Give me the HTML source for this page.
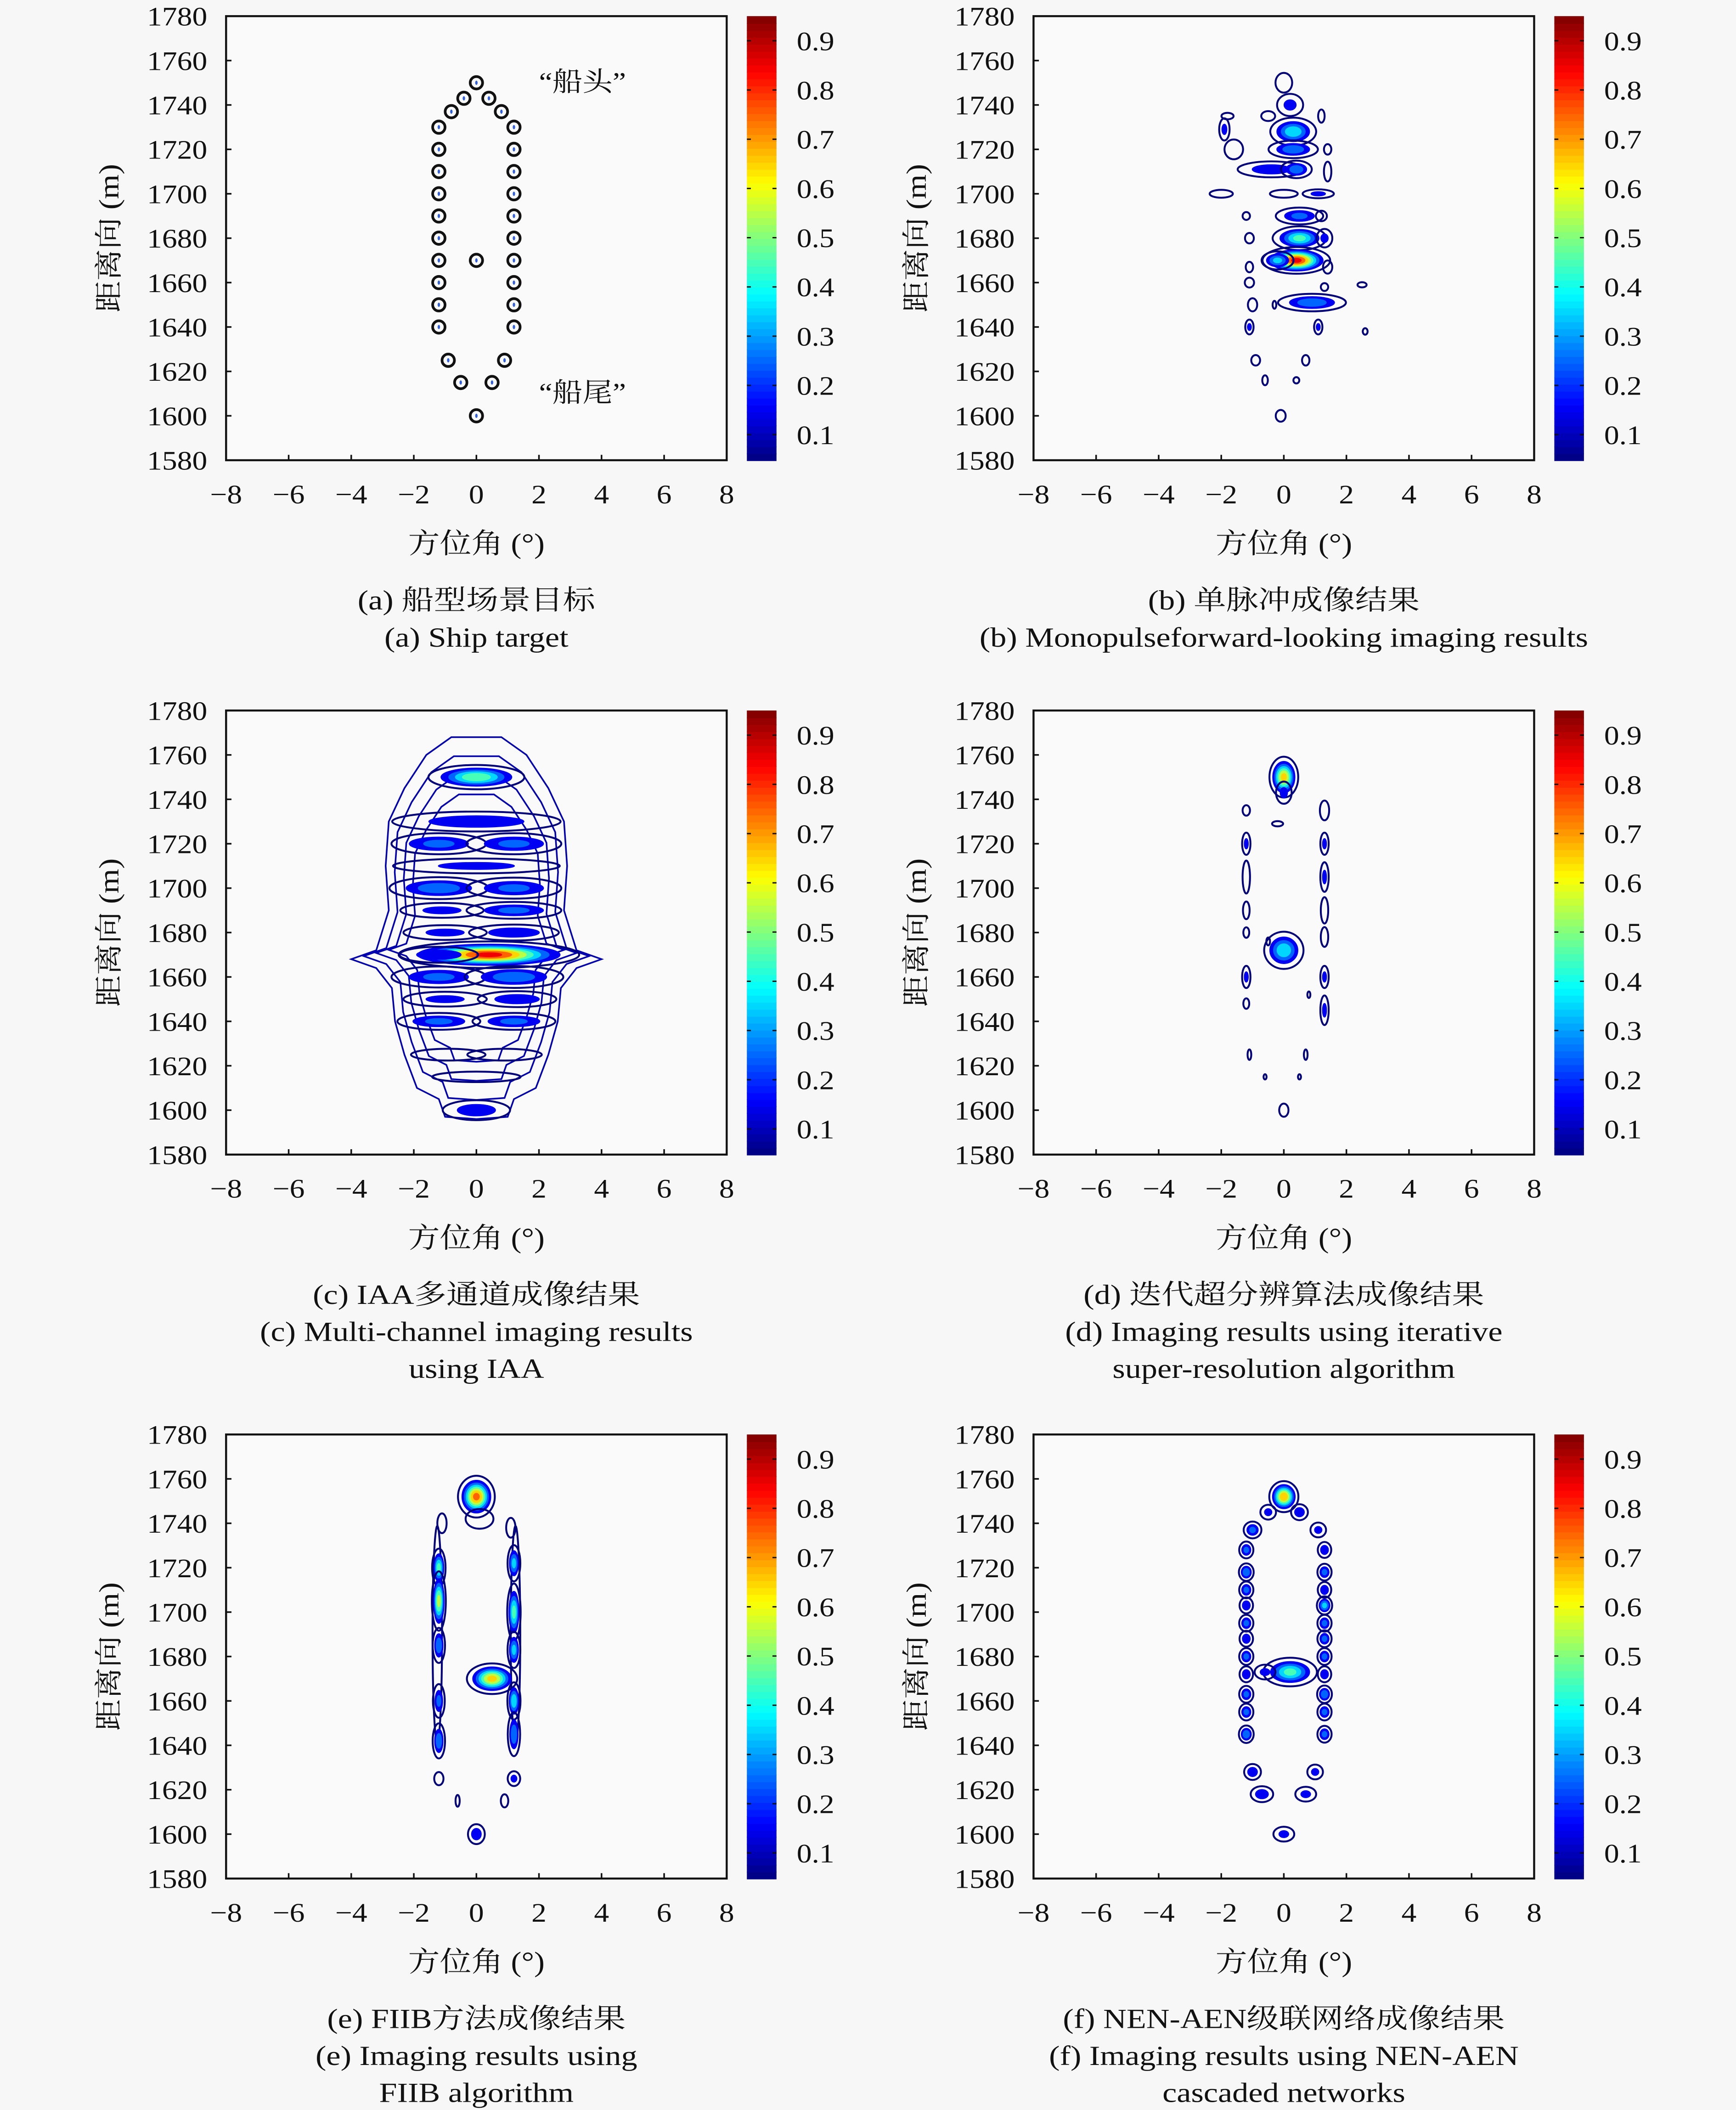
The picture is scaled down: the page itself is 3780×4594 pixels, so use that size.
<!DOCTYPE html>
<html><head><meta charset="utf-8"><style>
html,body{margin:0;padding:0;background:#f7f7f7}
svg{display:block}
text{font-family:"Liberation Serif","Noto Serif CJK SC",serif;fill:#111}
</style></head><body>
<svg id="fig" width="3780" height="4594" viewBox="0 0 1290 1568" preserveAspectRatio="none" xmlns="http://www.w3.org/2000/svg">
<rect x="0" y="0" width="1290" height="1568" fill="#f7f7f7"/>
</svg>
<script>
// ---- data ----
const xTicks = [-8,-6,-4,-2,0,2,4,6,8];
const yTicks = [1580,1600,1620,1640,1660,1680,1700,1720,1740,1760,1780];
const cbTicks = [0.1,0.2,0.3,0.4,0.5,0.6,0.7,0.8,0.9];
// panel (a) ship scatterers
const shipX = [0,-0.4,0.4,-0.8,0.8,-1.2,-1.2,-1.2,-1.2,-1.2,-1.2,-1.2,-1.2,-1.2,-1.2,1.2,1.2,1.2,1.2,1.2,1.2,1.2,1.2,1.2,1.2,0,-0.9,0.9,-0.5,0.5,0];
const shipY = [1750,1743,1743,1737,1737,1730,1720,1710,1700,1690,1680,1670,1660,1650,1640,1730,1720,1710,1700,1690,1680,1670,1660,1650,1640,1670,1625,1625,1615,1615,1600];
// panel (b) blobs [x, y, peak, sx, sy]
const blobsB = [[0,1750,0.15,0.18,3],[0.2,1740,0.2,0.25,3],[-1.8,1735,0.08,0.2,1.5],[-1.9,1729,0.2,0.1,3],[-0.5,1735,0.15,0.15,1.5],[0.3,1728,0.45,0.35,3],[1.2,1735,0.15,0.07,2],[0.3,1720,0.35,0.4,2],[-1.6,1720,0.15,0.2,3],[1.4,1720,0.1,0.1,2],[-0.4,1711,0.25,0.6,2],[0.4,1711,0.35,0.25,2],[1.4,1710,0.15,0.08,3],[-2,1700,0.15,0.25,1.2],[0,1700,0.15,0.3,1.2],[1.1,1700,0.2,0.3,1.2],[0.5,1690,0.3,0.4,2],[-1.2,1690,0.1,0.1,1.5],[1.2,1690,0.1,0.15,2],[0.5,1680,0.5,0.4,2.5],[1.3,1680,0.2,0.15,2.5],[-1.1,1680,0.1,0.12,2],[0.4,1670,0.9,0.45,2.5],[-0.2,1670,0.4,0.25,2],[-1.1,1667,0.1,0.1,2],[1.4,1667,0.15,0.1,2],[-1.1,1660,0.15,0.1,1.5],[1.3,1658,0.1,0.1,1.5],[2.5,1659,0.08,0.15,1.2],[0.9,1651,0.35,0.55,2],[-1.0,1650,0.15,0.1,2],[-0.3,1650,0.1,0.05,1.5],[-1.1,1640,0.2,0.08,2],[1.1,1640,0.2,0.08,2],[2.6,1638,0.08,0.08,1.5],[-0.9,1625,0.1,0.12,2],[0.7,1625,0.1,0.1,2],[-0.6,1616,0.15,0.06,1.5],[0.4,1616,0.1,0.08,1.2],[-0.1,1600,0.12,0.12,2]];
// panel (c)
const envX = [0.8,1.6,2.3,2.8,2.9,2.8,3.2,4,3.2,2.7,2.6,2.3,1.9,1.2,1.0,0];
const envY = [1768,1760,1745,1730,1710,1690,1672,1668,1664,1655,1640,1625,1610,1605,1597,1596];
const envScales = [1,0.9,0.8,0.7];
const blobsC = [[0,1750,0.55,0.7,2.5],[0,1730,0.25,1.5,2.5],[-1.2,1720,0.3,0.8,2.5],[1.2,1720,0.3,0.8,2.5],[0,1710,0.2,1.6,2],[-1.2,1700,0.35,0.8,2.5],[1.2,1700,0.3,0.8,2.5],[-1.1,1690,0.2,0.8,2],[1.2,1690,0.3,0.8,2],[-1,1680,0.2,0.8,2],[1.2,1680,0.25,0.8,2],[0.4,1670,0.9,1.2,2.5],[-1.2,1670,0.25,0.7,2],[-1.2,1660,0.3,0.8,2.5],[1.2,1660,0.35,0.8,2.5],[-1,1650,0.2,0.8,2],[1.3,1650,0.25,0.7,2],[-1.2,1640,0.3,0.7,2],[1.2,1640,0.3,0.7,2],[-0.9,1625,0.12,0.9,2],[0.9,1625,0.12,0.9,2],[0,1615,0.1,1.2,2],[0,1600,0.25,0.6,2.5]];
// panel (d)
const blobsD = [[0,1750,0.7,0.2,4],[0,1743,0.2,0.15,3],[-1.2,1735,0.1,0.1,2],[1.3,1735,0.15,0.1,3],[-0.2,1729,0.1,0.15,1],[-1.2,1720,0.2,0.08,3],[1.3,1720,0.2,0.08,3],[-1.2,1705,0.15,0.08,5],[1.3,1705,0.2,0.08,4],[-1.2,1690,0.12,0.08,3],[1.3,1690,0.15,0.08,4],[-1.2,1680,0.1,0.08,2],[1.3,1678,0.15,0.08,3],[0,1672,0.45,0.3,4],[-0.5,1676,0.1,0.05,1.5],[-1.2,1660,0.2,0.08,3],[1.3,1660,0.2,0.08,3],[-1.2,1648,0.1,0.08,2],[1.3,1645,0.2,0.08,4],[0.8,1652,0.08,0.05,1.5],[-1.1,1625,0.1,0.05,2],[0.7,1625,0.1,0.05,2],[-0.6,1615,0.08,0.05,1.2],[0.5,1615,0.08,0.05,1.2],[0,1600,0.15,0.1,2]];
// panel (e)
const blobsE = [[-1.25,1690,0.09,0.14,45],[1.25,1690,0.09,0.14,45],[0,1752,0.8,0.25,4],[0.1,1742,0.15,0.3,3],[-1.1,1740,0.15,0.1,3],[1.1,1738,0.15,0.1,3],[-1.2,1720,0.5,0.1,4],[1.2,1722,0.4,0.1,4],[-1.2,1705,0.6,0.1,6],[1.2,1700,0.5,0.1,6],[-1.2,1685,0.35,0.1,4],[1.2,1683,0.4,0.1,4],[0.5,1670,0.7,0.35,3],[-1.2,1660,0.3,0.1,4],[1.2,1660,0.45,0.1,4],[-1.2,1642,0.35,0.1,4],[1.2,1645,0.35,0.1,5],[-1.2,1625,0.15,0.1,2],[1.2,1625,0.2,0.12,2],[-0.6,1615,0.12,0.05,2],[0.9,1615,0.15,0.08,2],[0,1600,0.25,0.15,2.5]];
// panel (f)
const blobsF = [[0,1752,0.75,0.2,3],[-0.5,1745,0.2,0.15,2],[0.5,1745,0.25,0.15,2],[-1,1737,0.3,0.15,2],[1.1,1737,0.2,0.15,2],[-1.2,1728,0.3,0.12,2],[1.3,1728,0.25,0.12,2],[-1.2,1718,0.35,0.12,2],[1.3,1718,0.3,0.12,2],[-1.2,1710,0.3,0.12,2],[1.3,1710,0.25,0.12,2],[-1.2,1703,0.25,0.12,2],[1.3,1703,0.4,0.12,2],[-1.2,1695,0.3,0.12,2],[1.3,1695,0.3,0.12,2],[-1.2,1688,0.25,0.12,2],[1.3,1688,0.3,0.12,2],[-1.2,1680,0.3,0.12,2],[1.3,1680,0.3,0.12,2],[-1.2,1672,0.25,0.12,2],[1.3,1672,0.25,0.12,2],[-1.2,1663,0.3,0.12,2],[1.3,1663,0.35,0.12,2],[-1.2,1655,0.3,0.12,2],[1.3,1655,0.3,0.12,2],[-1.2,1645,0.35,0.12,2],[1.3,1645,0.3,0.12,2],[0.2,1673,0.5,0.4,3],[-0.6,1673,0.2,0.2,2],[-1,1628,0.25,0.15,2],[1,1628,0.2,0.15,2],[-0.7,1618,0.25,0.2,2],[0.7,1618,0.2,0.2,2],[0,1600,0.2,0.2,2]];
const levels = [0.05,0.15,0.25,0.35,0.45,0.55,0.65,0.75,0.85];
const captions = [
 ["(a) 船型场景目标","(a) Ship target"],
 ["(b) 单脉冲成像结果","(b) Monopulseforward-looking imaging results"],
 ["(c) IAA多通道成像结果","(c) Multi-channel imaging results","using IAA"],
 ["(d) 迭代超分辨算法成像结果","(d) Imaging results using iterative","super-resolution algorithm"],
 ["(e) FIIB方法成像结果","(e) Imaging results using","FIIB algorithm"],
 ["(f) NEN-AEN级联网络成像结果","(f) Imaging results using NEN-AEN","cascaded networks"]];

// ---- drawing ----
const NS='http://www.w3.org/2000/svg';
const svg=document.getElementById('fig');
function mk(tag,attrs,parent){const e=document.createElementNS(NS,tag);for(const k in attrs)e.setAttribute(k,attrs[k]);(parent||svg).appendChild(e);return e;}
function txt(parent,x,y,size,anchor,str,stretch,rot){
 const t=mk('text',{x:0,y:0,'font-size':size,'text-anchor':anchor,transform:`translate(${x},${y})`+(rot?` rotate(${rot})`:'')+` scale(${stretch},1)`},parent);
 t.textContent=str;return t;}
function jet(v){v=Math.max(0,Math.min(1,v));
 const r=Math.max(0,Math.min(1,1.5-Math.abs(4*v-3))),g=Math.max(0,Math.min(1,1.5-Math.abs(4*v-2))),b=Math.max(0,Math.min(1,1.5-Math.abs(4*v-1)));
 return `rgb(${Math.round(r*255)},${Math.round(g*255)},${Math.round(b*255)})`;}
const PW=372,PH=330;
const colX=[168,768], rowY=[12,528,1066];
const defs=mk('defs',{});
function panel(i){
 const x0=colX[i%2], y0=rowY[Math.floor(i/2)];
 const sx=v=>x0+(v+8)/16*PW, sy=v=>y0+PH-(v-1580)/200*PH;
 const g=mk('g',{});
 
 
 const cp=mk('clipPath',{id:'cp'+i},defs); mk('rect',{x:x0,y:y0,width:PW,height:PH},cp);
 mk('rect',{x:x0,y:y0,width:PW,height:PH,fill:'#fafafa'},g);
 const plot=mk('g',{'clip-path':`url(#cp${i})`},g);
 
 
 function blobs(arr){
  arr.forEach(b=>{const [bx,by,p,wx,wy]=b;
   levels.filter(L=>L<p).forEach((L,li)=>{
    const k=Math.sqrt(2*Math.log(p/L));
    const rx=Math.max(0.8,wx*k*PW/16), ry=Math.max(0.8,wy*k*PH/200);
    const e=mk('ellipse',{cx:sx(bx),cy:sy(by),rx:rx,ry:ry,fill:li===0?'none':jet((L-0.048)/0.902),stroke:li===0?'#00007a':jet((L-0.048)/0.902),'stroke-width':li===0?1.4:0.8},plot);
    
    
   });});}
 if(i===0){
  shipX.forEach((v,j)=>{
   const c=mk('circle',{cx:sx(v),cy:sy(shipY[j]),r:4.6,fill:'#fafafa',stroke:'#111','stroke-width':2},plot);
   
   
   mk('ellipse',{cx:sx(v),cy:sy(shipY[j]),rx:0.9,ry:1.6,fill:'#3060e0'},plot);
  });
  const t1=txt(plot,sx(2),sy(1750)+6,20,'start','“船头”',1.12);
   
  const t2=txt(plot,sx(2),sy(1610)+6,20,'start','“船尾”',1.12);
   
 }
 if(i===1)blobs(blobsB);
 if(i===2){
  envScales.forEach(s=>{
   let pts=[];
   envX.forEach((v,j)=>pts.push([-v*s, 1682+(envY[j]-1682)*s]));
   for(let j=envX.length-1;j>=0;j--)pts.push([envX[j]*s,1682+(envY[j]-1682)*s]);
   const p=mk('polygon',{points:pts.map(q=>sx(q[0])+','+sy(q[1])).join(' '),fill:'none',stroke:'#0000b0','stroke-width':1.2},plot);
   
   
  });
  blobs(blobsC);
 }
 if(i===3)blobs(blobsD);
 if(i===4)blobs(blobsE);
 if(i===5)blobs(blobsF);
 mk('rect',{x:x0,y:y0,width:PW,height:PH,fill:'none',stroke:'#111','stroke-width':1.5},g);
 xTicks.forEach(v=>{mk('line',{x1:sx(v),x2:sx(v),y1:y0+PH,y2:y0+PH-4,stroke:'#111','stroke-width':1.2},g);
  const t=txt(g,sx(v),y0+PH+32,20,'middle',(v<0?'−':'')+Math.abs(v),1.12);
   });
 yTicks.forEach(v=>{mk('line',{x1:x0,x2:x0+4,y1:sy(v),y2:sy(v),stroke:'#111','stroke-width':1.2},g);
  const t=txt(g,x0-14,sy(v)+7,20,'end',String(v),1.12);
   });
 const xt=txt(g,x0+PW/2,y0+PH+69,21,'middle','方位角 (°)',1.12);
  
 const yt=txt(g,x0-80,y0+PH/2,21,'middle','距离向 (m)',1.12,-90);
  
 // colorbar
 const cx=x0+387, cb=mk('g',{},g);
  
 const N=64;for(let k=0;k<N;k++){mk('rect',{x:cx,y:y0+PH-(k+1)*PH/N,width:22,height:PH/N+0.6,fill:jet((k+0.5)/N)},cb);}
 const cy=v=>y0+PH-(v-0.048)/0.902*PH;
 cbTicks.forEach(v=>{mk('line',{x1:cx,x2:cx+3,y1:cy(v),y2:cy(v),stroke:'#111'},cb);mk('line',{x1:cx+22,x2:cx+19,y1:cy(v),y2:cy(v),stroke:'#111'},cb);
  const t=txt(cb,cx+37,cy(v)+7,20,'start',v.toFixed(1),1.12);
   });
 // captions
 captions[i].forEach((s,j)=>{const t=txt(g,x0+186,y0+441+j*27.5,20.5,'middle',s,1.17);
   });
}
for(let i=0;i<6;i++)panel(i);
</script>
</body></html>
